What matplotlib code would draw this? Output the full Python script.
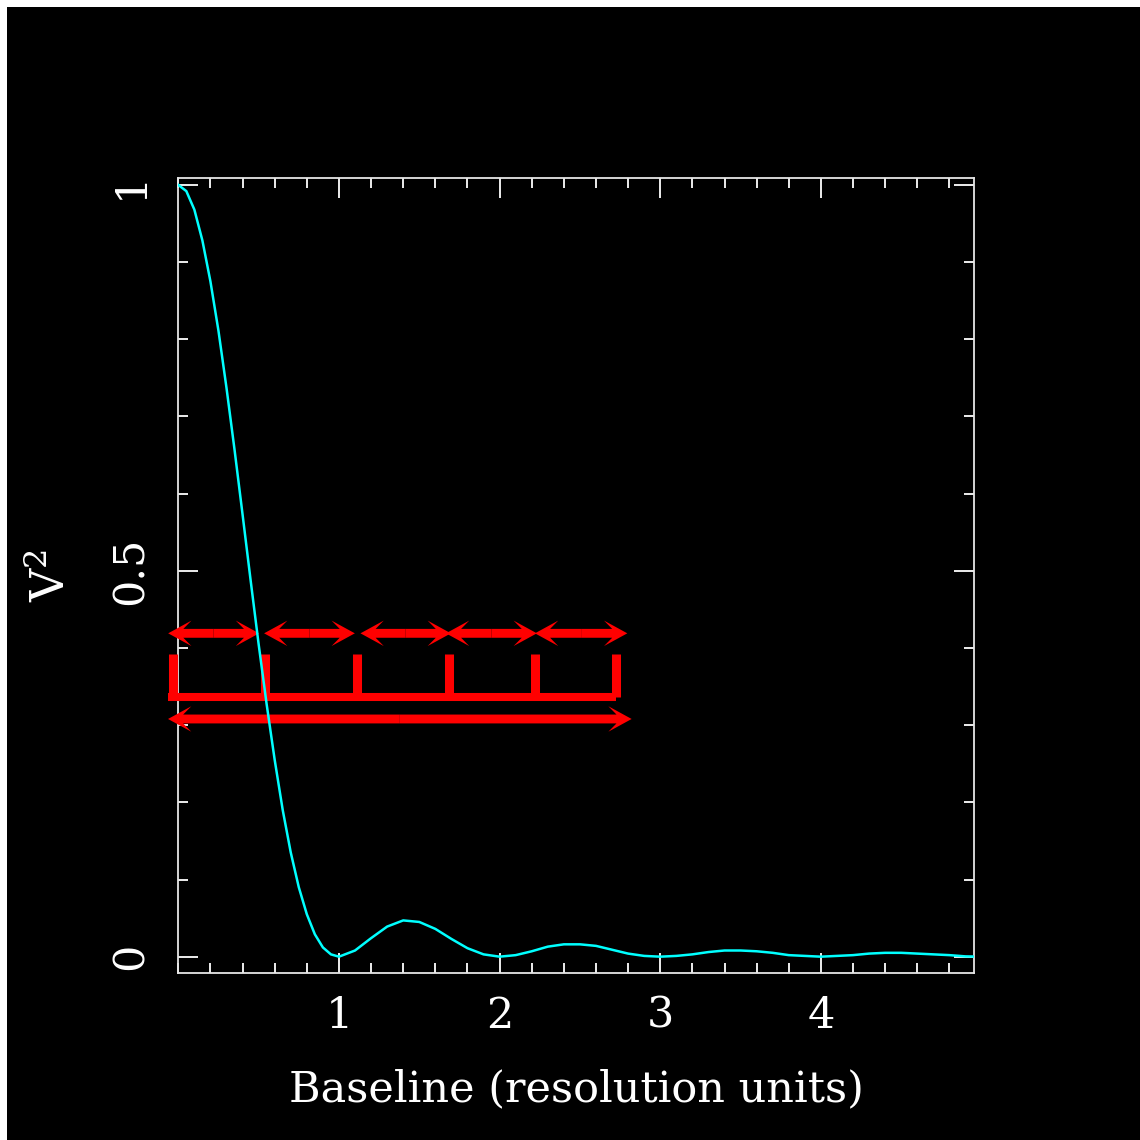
import matplotlib.pyplot as plt
from matplotlib.patches import Rectangle
from matplotlib.ticker import MultipleLocator

# V^2, baseline in resolution units
baseline = [0.0, 0.05, 0.1, 0.15, 0.2, 0.25, 0.3, 0.35, 0.4, 0.45, 0.5,
            0.55, 0.6, 0.65, 0.7, 0.75, 0.8, 0.85, 0.9, 0.95, 1.0,
            1.1, 1.2, 1.3, 1.4, 1.5, 1.6, 1.7, 1.8, 1.9, 2.0,
            2.1, 2.2, 2.3, 2.4, 2.5, 2.6, 2.7, 2.8, 2.9, 3.0,
            3.1, 3.2, 3.3, 3.4, 3.5, 3.6, 3.7, 3.8, 3.9, 4.0,
            4.1, 4.2, 4.3, 4.4, 4.5, 4.6, 4.7, 4.8, 4.9, 5.0]
vis2 = [1.0, 0.992, 0.968, 0.928, 0.875, 0.811, 0.737, 0.657, 0.573, 0.488, 0.405,
        0.327, 0.255, 0.190, 0.135, 0.090, 0.055, 0.029, 0.012, 0.003, 0.0,
        0.008, 0.024, 0.039, 0.047, 0.045, 0.036, 0.023, 0.011, 0.003, 0.0,
        0.002, 0.007, 0.013, 0.016, 0.016, 0.014, 0.009, 0.004, 0.001, 0.0,
        0.001, 0.003, 0.006, 0.008, 0.008, 0.007, 0.005, 0.002, 0.001, 0.0,
        0.001, 0.002, 0.004, 0.005, 0.005, 0.004, 0.003, 0.002, 0.0004, 0.0]

# red markup
arrow_y = 0.419
arrow_left = [-0.063, 0.534, 1.134, 1.666, 2.220]
arrow_right = [0.503, 1.099, 1.697, 2.232, 2.795]
long_y = 0.308
long_left, long_right = -0.064, 2.822
comb_y = 0.336
teeth_top = 0.392
teeth_x = [-0.036, 0.537, 1.111, 1.684, 2.218, 2.724]
comb_left, comb_right = -0.064, 2.722

plt.rcParams['font.family'] = 'DejaVu Serif'
plt.rcParams['mathtext.fontset'] = 'dejavuserif'
plt.rcParams['mathtext.default'] = 'regular'
fs = 31

fig = plt.figure(figsize=(11.4, 11.4), dpi=100, facecolor='white')
# black page, thin white strip only on the top and left edges
fig.add_artist(Rectangle((7 / 1140, -0.1), 1.2, 1.1 - 7 / 1140, transform=fig.transFigure,
                         facecolor='black', edgecolor='none', zorder=-10))
ax = fig.add_axes([178.3 / 1140, 1 - 972.5 / 1140, 795.7 / 1140, 794.5 / 1140])
ax.set_facecolor('black')

ax.plot(baseline, vis2, color='#00ffff', lw=1.8, zorder=4)


def double_arrow(x0, x1, y):
    # two half arrows from the middle, notched heads
    mid = (x0 + x1) / 2
    for end in (x0, x1):
        ax.arrow(mid, y, end - mid, 0, width=0.0115, head_width=0.033,
                 head_length=0.145, overhang=0.35, length_includes_head=True,
                 color='red', lw=0, clip_on=False, zorder=3)


for a, b in zip(arrow_left, arrow_right):
    double_arrow(a, b, arrow_y)
double_arrow(long_left, long_right, long_y)

ax.plot([comb_left, comb_right], [comb_y, comb_y], color='red', lw=5.8,
        solid_capstyle='butt', clip_on=False, zorder=3)
for tx in teeth_x:
    ax.plot([tx, tx], [comb_y, teeth_top], color='red', lw=6.5,
            solid_capstyle='butt', clip_on=False, zorder=3)

ax.set_xlim(0, 4.953)
ax.set_ylim(-0.0205, 1.009)
ax.set_xticks([1, 2, 3, 4])
ax.xaxis.set_minor_locator(MultipleLocator(0.2))
ax.set_yticks([0, 0.5, 1], labels=['0', '0.5', '1'], rotation=90, va='center')
ax.yaxis.set_minor_locator(MultipleLocator(0.1))

ax.tick_params(which='both', direction='in', top=True, right=True,
               color='white', width=1.3, labelcolor='white', labelsize=fs)
ax.tick_params(which='major', length=14.4)
ax.tick_params(which='minor', length=7.2)
ax.tick_params(axis='x', pad=16)
ax.tick_params(axis='y', pad=19)
for sp in ax.spines.values():
    sp.set_color('#e6e6e6')
    sp.set_linewidth(1.3)

ax.set_xlabel('Baseline (resolution units)', fontsize=fs, color='white')
ax.xaxis.set_label_coords(0.5, -0.12)
ax.set_ylabel('V$^2$', fontsize=33, color='white')
ax.yaxis.set_label_coords(-0.13, 0.5)

fig.savefig('out.png', dpi=100, facecolor=fig.get_facecolor())
